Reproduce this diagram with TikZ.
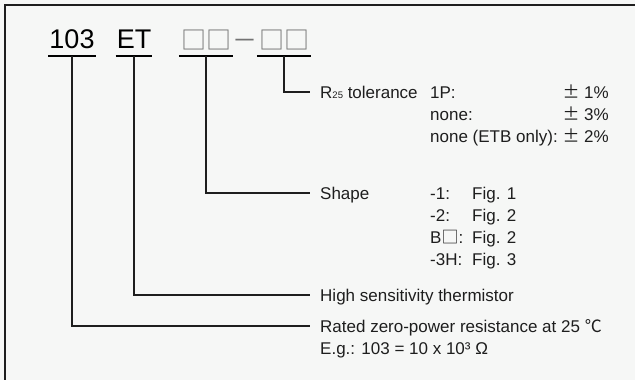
\documentclass[tikz,border=0pt]{standalone}
\usepackage{fontspec}
\setmainfont{Liberation Sans}
\newfontfamily\cjkfont{Noto Sans CJK KR}
\usetikzlibrary{calc}
\definecolor{bgcol}{RGB}{246,247,246}
\definecolor{slotgray}{RGB}{115,115,115}
\definecolor{inkcol}{RGB}{30,30,30}

\begin{document}
\begin{tikzpicture}[x=1pt, y=-1pt,
  code/.style={inner sep=0pt, anchor=base, text=black, font=\fontsize{27}{27}\selectfont},
  slot/.style={inner sep=0pt, anchor=base, text=slotgray, font=\cjkfont\fontsize{25}{25}\selectfont},
  desc/.style={inner sep=0pt, anchor=west, text height=12.2pt, text depth=0pt, text=inkcol, font=\fontsize{17}{17}\selectfont},
  value/.style={desc, anchor=east},
  under/.style={line width=2.8pt, color=black},
  lead/.style={line width=1.1pt, color=inkcol}]

% background and frame
\useasboundingbox (0,0) rectangle (635,380);
\fill [bgcol] (0,0) rectangle (635,380);
\draw [line width=1.6pt, color=inkcol] (5,380) -- (5,5) -- (635,5);

% part number
\node [code] (c103) at (72,48) {103};
\node [code] (cET) at (134,48) {ET};
\node [slot] (cshape) at (206,49) {□□};
\node [slot] (cdash) at (245,49) {－};
\node [slot] (ctol) at (284,49) {□□};

% underlines
\draw [under] ($(c103.base west)+(-1,8)$) -- ($(c103.base east)+(1,8)$);
\draw [under] ($(cET.base west)+(-1,8)$) -- ($(cET.base east)+(1,8)$);
\draw [under] ($(cshape.base west)+(-2,7)$) -- ($(cshape.base east)+(2,7)$);
\draw [under] ($(ctol.base west)+(-2,7)$) -- ($(ctol.base east)+(2,7)$);
\coordinate (u103) at ($(c103.base)+(0,8)$);
\coordinate (uET) at ($(cET.base)+(0,8)$);
\coordinate (ushape) at ($(cshape.base)+(0,7)$);
\coordinate (utol) at ($(ctol.base)+(0,7)$);

% R25 tolerance
\node [desc] (ltol) at (320,92) {R{\fontsize{9.5}{9.5}\selectfont 25} tolerance};
\node [desc] (ltolA) at (430,92) {1P:};
\node [value] (ltolAv) at (609,92) {{\cjkfont ±} 1\%};
\node [desc] (ltolB) at (430,114) {none:};
\node [value] (ltolBv) at (609,114) {{\cjkfont ±} 3\%};
\node [desc] (ltolC) at (430,136) {none (ETB only):};
\node [value] (ltolCv) at (609,136) {{\cjkfont ±} 2\%};

% shape
\node [desc] (lshape) at (320,193) {Shape};
\node [desc] (lshapeA) at (430,193) {-1:};
\node [desc] (lshapeAv) at (472,193) {Fig. 1};
\node [desc] (lshapeB) at (430,215) {-2:};
\node [desc] (lshapeBv) at (472,215) {Fig. 2};
\node [desc] (lshapeC) at (430,237) {B{\cjkfont □}:};
\node [desc] (lshapeCv) at (472,237) {Fig. 2};
\node [desc] (lshapeD) at (430,259) {-3H:};
\node [desc] (lshapeDv) at (472,259) {Fig. 3};

% material and resistance
\node [desc] (lsens) at (320,295) {High sensitivity thermistor};
\node [desc] (lres) at (320,326) {Rated zero-power resistance at 25 {\cjkfont ℃}};
\node [desc] (lresB) at (320,348) {E.g.: 103 = 10 x 10³ Ω};

% leaders
\draw [lead] (utol) |- ([xshift=-10pt]ltol.west);
\draw [lead] (ushape) |- ([xshift=-10pt]lshape.west);
\draw [lead] (uET) |- ([xshift=-10pt]lsens.west);
\draw [lead] (u103) |- ([xshift=-10pt]lres.west);

\end{tikzpicture}
\end{document}
